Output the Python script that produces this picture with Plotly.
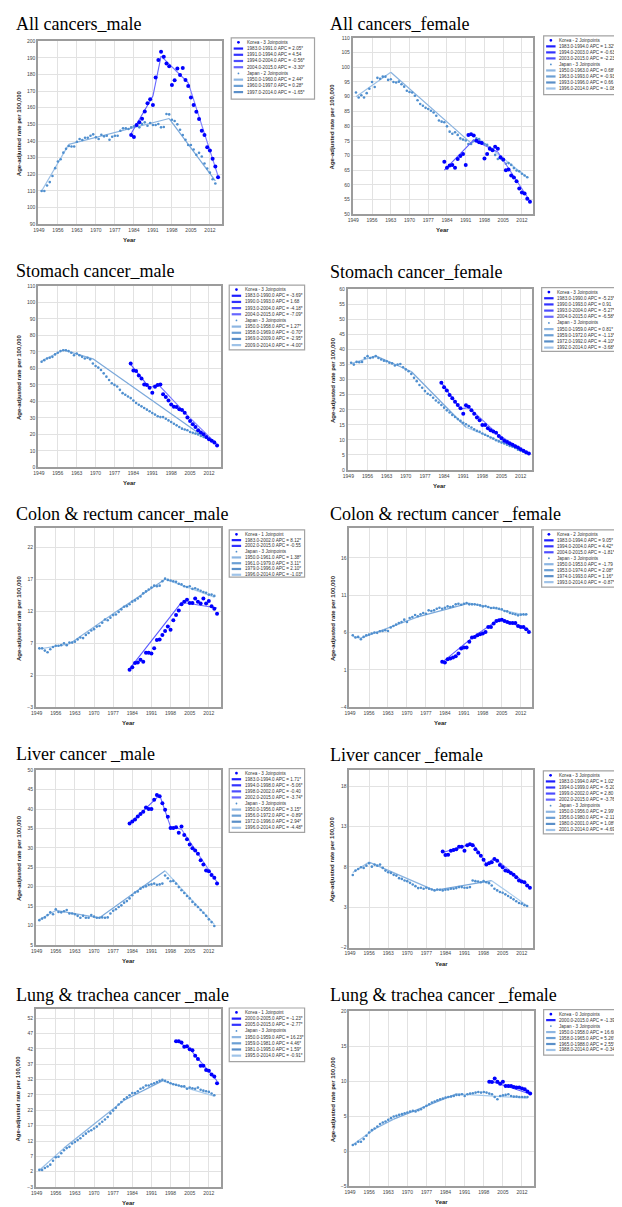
import plotly.graph_objects as go

# The page body adds an 8px margin, so the figure is drawn 8px smaller and shifted.
OFF = 8
W, H = 622 - OFF, 1207 - OFF
SANS = "Liberation Sans, Arial, sans-serif"
SERIF = "Liberation Serif, Times New Roman, serif"
FRAME = "#9c9c9c"
GRID = "#e2e2e2"
KR_MARK = "#0000ff"
JP_MARK = "#4f8fcf"
KR_COLORS = ["#1f1fff", "#3333ff", "#4d4dff", "#6666ff"]
KR_LINE_COLORS = ["#5a5aff", "#6666ff", "#7474ff", "#8080ff"]
JP_COLORS = ["#8db6e2", "#6b9fd4", "#5a8fc8", "#9fc3e8"]
JP_LINE_COLORS = ["#9cc0e6", "#88b2df", "#7aa8da", "#a8cbec"]

# ---------------- common data ----------------
JP_YEARS = list(range(1950, 2015))
KR_YEARS = list(range(1983, 2016))
KR_YEARS_LUNG = list(range(2000, 2016))
X_TICKS = [1949, 1956, 1963, 1970, 1977, 1984, 1991, 1998, 2005, 2012]
X_RANGE = [1948.7, 2016.3]
Y_TITLE = "Age-adjusted rate per 100,000"
X_TITLE = "Year"

# ---------------- All cancers, male ----------------
ALLM_TITLE = "All cancers_male"
ALLM_KR = [143.6, 142.4, 149.6, 151.2, 153.4, 157.8, 162.7, 165.1, 161.6, 178.1,
           188.6, 193.6, 190.6, 186.5, 184.9, 173.7, 176.5, 183.5, 179.7, 183.9,
           176.7, 173.1, 166.1, 161.6, 157.6, 153.2, 146.2, 143.6, 136.3, 134.3,
           129.3, 124.7, 118.3]
ALLM_JP = [110.0, 110.0, 113.3, 115.3, 119.0, 123.7, 127.7, 129.0, 133.0, 135.3,
           137.0, 136.7, 136.7, 139.6, 141.2, 140.6, 142.0, 142.0, 143.2, 144.0,
           142.2, 141.2, 143.8, 142.8, 143.2, 140.8, 142.6, 143.2, 143.2, 146.2,
           147.6, 147.6, 147.2, 148.2, 148.8, 149.2, 148.2, 150.2, 151.2, 149.2,
           150.8, 149.6, 149.6, 150.2, 148.2, 148.4, 156.2, 156.0, 152.8, 152.0,
           150.0, 146.8, 143.6, 140.8, 137.6, 137.6, 134.9, 131.7, 132.9, 130.7,
           126.5, 123.5, 121.0, 117.0, 114.5]
ALLM_KR_JOIN = [1983, 1991, 1994, 2004, 2015]
ALLM_KR_FIT = [144.5, 167.0, 191.0, 175.0, 119.0]
ALLM_JP_JOIN = [1950, 1960, 1997, 2014]
ALLM_JP_FIT = [110.0, 138.0, 153.5, 116.0]
ALLM_KR_LABELS = ["Korea - 3 Joinpoints", "1983.0-1991.0 APC = 2.05*", "1991.0-1994.0 APC = 4.54",
                  "1994.0-2004.0 APC = -0.56*", "2004.0-2015.0 APC = -3.30*"]
ALLM_JP_LABELS = ["Japan - 2 Joinpoints", "1950.0-1960.0 APC = 2.44*", "1960.0-1997.0 APC = 0.28*",
                  "1997.0-2014.0 APC = -1.65*"]

# ---------------- All cancers, female ----------------
ALLF_TITLE = "All cancers_female"
ALLF_KR = [67.9, 65.8, 66.6, 66.8, 65.8, 68.8, 69.8, 70.5, 66.8, 77.0,
           77.2, 76.8, 75.0, 74.5, 74.2, 69.0, 70.5, 72.3, 71.8, 73.0,
           72.3, 69.4, 68.6, 65.0, 65.2, 63.2, 62.5, 61.2, 58.8, 57.4,
           57.1, 55.3, 54.3]
ALLF_JP = [91.4, 89.7, 90.5, 89.7, 91.2, 92.7, 95.0, 93.3, 96.4, 96.1,
           96.8, 96.8, 95.7, 95.9, 95.0, 94.8, 95.1, 94.2, 93.4, 92.0,
           91.6, 91.4, 90.3, 88.8, 87.5, 86.9, 86.2, 85.8, 85.2, 84.6,
           83.5, 81.9, 81.5, 81.3, 79.9, 78.1, 77.4, 77.9, 77.0, 75.8,
           75.4, 75.1, 73.9, 73.9, 75.1, 75.8, 75.6, 74.5, 73.9, 73.6,
           72.8, 72.2, 70.2, 68.8, 69.0, 68.3, 67.2, 67.4, 66.8, 65.7,
           64.9, 64.6, 63.8, 63.2, 62.6]
ALLF_KR_JOIN = [1983, 1994, 2003, 2015]
ALLF_KR_FIT = [65.0, 75.3, 71.2, 54.5]
ALLF_JP_JOIN = [1950, 1963, 1993, 1996, 2014]
ALLF_JP_FIT = [90.0, 98.3, 74.2, 75.6, 62.5]
ALLF_KR_LABELS = ["Korea - 2 Joinpoints", "1983.0-1994.0 APC = 1.32*", "1994.0-2003.0 APC = -0.63",
                  "2003.0-2015.0 APC = -2.23*"]
ALLF_JP_LABELS = ["Japan - 3 Joinpoints", "1950.0-1963.0 APC = 0.68*", "1963.0-1993.0 APC = -0.93*",
                  "1993.0-1996.0 APC = 0.66", "1996.0-2014.0 APC = -1.08*"]

# ---------------- Stomach, male ----------------
STOM_TITLE = "Stomach cancer_male"
STOM_KR = [63.0, 58.8, 58.4, 55.7, 53.9, 50.3, 49.9, 48.3, 45.3, 48.9,
           49.9, 50.3, 44.3, 42.7, 40.6, 38.2, 36.8, 36.6, 35.2, 34.8,
           33.2, 30.2, 28.2, 26.2, 24.5, 22.5, 21.1, 20.1, 18.5, 17.1,
           16.1, 15.1, 13.3]
STOM_JP = [64.0, 65.0, 66.0, 66.5, 67.0, 68.5, 69.5, 70.5, 71.0, 71.0,
           70.5, 69.5, 68.0, 69.0, 68.0, 67.0, 66.0, 66.5, 65.5, 63.0,
           61.5, 60.5, 59.0, 57.0, 55.0, 53.0, 51.0, 50.0, 49.0, 47.0,
           45.0, 44.0, 43.0, 42.0, 40.5, 39.0, 38.0, 37.0, 36.0, 35.0,
           34.0, 33.0, 32.0, 31.0, 30.5, 30.5, 29.5, 28.5, 27.5, 26.5,
           25.5, 24.5, 23.5, 23.0, 22.5, 21.5, 21.0, 20.5, 20.0, 19.0,
           18.5, 18.0, 17.5, 16.5, 15.5]
STOM_KR_JOIN = [1983, 1990, 1993, 2004, 2015]
STOM_KR_FIT = [62.5, 48.2, 50.6, 31.5, 14.0]
STOM_JP_JOIN = [1950, 1958, 1969, 2009, 2014]
STOM_JP_FIT = [64.5, 71.2, 65.8, 19.8, 16.1]
STOM_KR_LABELS = ["Korea - 3 Joinpoints", "1983.0-1990.0 APC = -3.69*", "1990.0-1993.0 APC = 1.68",
                  "1993.0-2004.0 APC = -4.18*", "2004.0-2015.0 APC = -7.09*"]
STOM_JP_LABELS = ["Japan - 3 Joinpoints", "1950.0-1958.0 APC = 1.27*", "1958.0-1969.0 APC = -0.70*",
                  "1969.0-2009.0 APC = -2.95*", "2009.0-2014.0 APC = -4.00*"]

# ---------------- Stomach, female ----------------
STOF_TITLE = "Stomach cancer_female"
STOF_KR = [29.0, 27.5, 26.4, 24.9, 23.8, 22.7, 21.6, 20.5, 18.7, 21.5,
           21.0, 19.8, 18.7, 17.4, 16.5, 14.9, 14.9, 13.9, 13.2, 12.8,
           12.4, 11.3, 10.5, 9.7, 9.3, 8.8, 8.4, 7.9, 7.5, 6.9,
           6.4, 5.9, 5.5]
STOF_JP = [35.6, 35.0, 35.9, 35.8, 35.9, 37.2, 37.8, 37.2, 37.4, 37.8,
           37.2, 36.7, 36.3, 36.1, 35.6, 35.4, 34.7, 35.0, 35.2, 34.1,
           33.4, 32.8, 31.9, 30.6, 29.5, 28.2, 27.3, 26.2, 25.3, 24.9,
           24.0, 23.1, 22.4, 21.6, 20.7, 19.8, 19.1, 18.3, 17.6, 16.9,
           16.3, 15.7, 15.2, 14.6, 14.1, 13.5, 13.0, 12.7, 12.1, 11.7,
           11.3, 10.8, 10.4, 9.9, 9.5, 9.1, 8.8, 8.4, 8.0, 7.7,
           7.3, 6.7, 6.4, 6.1, 5.6]
STOF_KR_JOIN = [1983, 1990, 1993, 2004, 2015]
STOF_KR_FIT = [29.0, 20.2, 20.8, 11.6, 5.5]
STOF_JP_JOIN = [1950, 1959, 1972, 1992, 2014]
STOF_JP_FIT = [35.3, 37.9, 32.7, 14.2, 6.1]
STOF_KR_LABELS = ["Korea - 3 Joinpoints", "1983.0-1990.0 APC = -5.23*", "1990.0-1993.0 APC = 0.91",
                  "1993.0-2004.0 APC = -5.27*", "2004.0-2015.0 APC = -6.58*"]
STOF_JP_LABELS = ["Japan - 3 Joinpoints", "1950.0-1959.0 APC = 0.81*", "1959.0-1972.0 APC = -1.13*",
                  "1972.0-1992.0 APC = -4.10*", "1992.0-2014.0 APC = -3.68*"]

# ---------------- Colon & rectum, male ----------------
CRCM_TITLE = "Colon & rectum cancer_male"
CRCM_KR = [2.85, 3.25, 3.9, 4.0, 4.4, 4.1, 5.5, 5.5, 5.4, 6.2,
           7.5, 7.6, 8.3, 8.9, 9.6, 9.1, 10.6, 11.4, 12.1, 13.1,
           13.5, 13.8, 13.3, 13.3, 14.0, 13.5, 13.2, 14.0, 13.2, 13.6,
           12.8, 12.4, 11.6]
CRCM_JP = [6.2, 6.2, 5.85, 5.6, 6.05, 6.4, 6.6, 6.6, 6.7, 7.0,
           6.7, 7.1, 7.1, 7.25, 7.6, 7.9, 7.8, 8.3, 8.6, 9.0,
           9.2, 9.6, 9.7, 10.2, 10.7, 10.6, 11.0, 11.4, 11.5, 11.9,
           12.3, 12.7, 12.8, 13.1, 13.5, 13.7, 14.0, 14.3, 14.8, 15.1,
           15.4, 15.7, 16.0, 15.9, 16.0, 16.7, 17.1, 16.9, 16.8, 16.7,
           16.6, 16.3, 16.2, 15.9, 15.8, 15.9, 15.5, 15.6, 15.4, 15.2,
           15.0, 14.9, 14.6, 14.6, 14.4]
CRCM_KR_JOIN = [1983, 2002, 2015]
CRCM_KR_FIT = [3.0, 13.4, 12.5]
CRCM_JP_JOIN = [1950, 1961, 1979, 1996, 2014]
CRCM_JP_FIT = [6.1, 6.9, 12.2, 17.0, 14.2]
CRCM_KR_LABELS = ["Korea - 1 Joinpoint", "1983.0-2002.0 APC = 8.12*", "2002.0-2015.0 APC = -0.55"]
CRCM_JP_LABELS = ["Japan - 3 Joinpoints", "1950.0-1961.0 APC = 1.38*", "1961.0-1979.0 APC = 3.11*",
                  "1979.0-1996.0 APC = 2.10*", "1996.0-2014.0 APC = -1.03*"]

# ---------------- Colon & rectum, female ----------------
CRCF_TITLE = "Colon & rectum cancer _female"
CRCF_KR = [2.09, 2.0, 2.44, 2.53, 2.67, 2.84, 3.2, 3.87, 4.0, 4.0,
           4.76, 5.33, 5.42, 5.64, 5.78, 5.87, 6.09, 6.76, 6.76, 7.2,
           7.56, 7.64, 7.73, 7.56, 7.42, 7.29, 7.29, 7.29, 6.89, 6.76,
           6.76, 6.44, 6.09]
CRCF_JP = [5.64, 5.33, 5.42, 5.1, 5.42, 5.64, 5.73, 5.87, 6.0, 5.96,
           6.18, 6.22, 6.31, 6.22, 6.67, 6.89, 7.07, 7.29, 7.42, 7.73,
           7.42, 7.96, 8.09, 8.36, 8.18, 8.44, 8.62, 8.53, 8.98, 8.89,
           8.98, 9.2, 9.33, 9.2, 9.33, 9.51, 9.42, 9.51, 9.78, 9.87,
           9.73, 9.87, 9.96, 9.78, 9.78, 9.78, 9.73, 9.64, 9.51, 9.56,
           9.42, 9.29, 9.33, 9.29, 9.2, 9.11, 8.89, 8.84, 8.62, 8.53,
           8.44, 8.31, 8.4, 8.44, 8.44]
CRCF_KR_JOIN = [1983, 1994, 2004, 2015]
CRCF_KR_FIT = [2.0, 5.3, 7.8, 6.4]
CRCF_JP_JOIN = [1950, 1953, 1974, 1993, 2014]
CRCF_JP_FIT = [5.5, 5.25, 8.1, 9.95, 8.3]
CRCF_KR_LABELS = ["Korea - 2 Joinpoints", "1983.0-1994.0 APC = 9.05*", "1994.0-2004.0 APC = 4.42*",
                  "2004.0-2015.0 APC = -1.81*"]
CRCF_JP_LABELS = ["Japan - 3 Joinpoints", "1950.0-1953.0 APC = -1.79", "1953.0-1974.0 APC = 2.08*",
                  "1974.0-1993.0 APC = 1.16*", "1993.0-2014.0 APC = -0.87*"]

# ---------------- Liver, male ----------------
LIVM_TITLE = "Liver cancer _male"
LIVM_KR = [36.3, 36.8, 37.3, 38.1, 38.7, 39.3, 40.4, 40.0, 40.0, 42.4,
           43.6, 43.3, 41.5, 39.8, 38.0, 35.1, 35.1, 35.3, 33.9, 35.5,
           33.3, 32.2, 30.9, 29.9, 29.3, 28.5, 26.8, 25.7, 24.2, 24.0,
           23.0, 22.3, 20.8]
LIVM_JP = [11.4, 11.8, 12.1, 12.7, 13.4, 12.9, 14.2, 13.5, 13.4, 13.7,
           14.0, 13.1, 13.1, 12.9, 12.5, 12.0, 12.5, 12.0, 12.0, 12.7,
           12.3, 12.0, 12.0, 12.1, 12.0, 12.1, 13.1, 13.8, 14.2, 14.8,
           15.2, 15.9, 16.3, 17.0, 17.8, 18.5, 18.8, 19.5, 19.9, 20.1,
           20.5, 20.6, 20.8, 20.5, 20.6, 20.8, 22.9, 22.2, 21.4, 21.5,
           20.8, 19.9, 19.1, 18.4, 17.6, 17.0, 16.1, 15.4, 14.8, 14.0,
           13.3, 12.5, 11.6, 10.9, 9.9]
LIVM_KR_JOIN = [1983, 1994, 1998, 2002, 2015]
LIVM_KR_FIT = [36.2, 43.6, 35.4, 34.8, 21.2]
LIVM_JP_JOIN = [1950, 1956, 1972, 1996, 2014]
LIVM_JP_FIT = [11.5, 13.9, 12.0, 24.1, 10.3]
LIVM_KR_LABELS = ["Korea - 3 Joinpoints", "1983.0-1994.0 APC = 1.71*", "1994.0-1998.0 APC = -5.06*",
                  "1998.0-2002.0 APC = -0.40", "2002.0-2015.0 APC = -3.74*"]
LIVM_JP_LABELS = ["Japan - 3 Joinpoints", "1950.0-1956.0 APC = 3.15*", "1956.0-1972.0 APC = -0.89*",
                  "1972.0-1996.0 APC = 2.94*", "1996.0-2014.0 APC = -4.48*"]

# ---------------- Liver, female ----------------
LIVF_TITLE = "Liver cancer _female"
LIVF_KR = [9.93, 9.48, 9.52, 10.0, 10.1, 10.2, 10.5, 10.5, 10.0, 10.7,
           10.8, 10.7, 10.2, 9.8, 9.4, 8.9, 8.29, 8.45, 8.57, 8.98,
           8.78, 8.25, 7.96, 7.55, 7.47, 7.26, 7.02, 6.73, 6.32, 6.2,
           6.11, 5.7, 5.42]
LIVF_JP = [7.0, 7.55, 7.75, 7.96, 7.88, 8.16, 8.45, 8.04, 8.29, 8.16,
           8.29, 7.88, 7.55, 7.34, 7.26, 7.02, 6.93, 6.61, 6.52, 6.32,
           6.24, 6.03, 5.83, 5.62, 5.38, 5.42, 5.3, 5.42, 5.3, 5.21,
           5.09, 5.21, 5.17, 5.09, 5.17, 5.21, 5.3, 5.3, 5.38, 5.5,
           5.5, 5.42, 5.42, 5.5, 6.32, 6.24, 6.2, 6.11, 6.24, 6.11,
           5.99, 5.7, 5.3, 5.09, 4.89, 4.8, 4.6, 4.39, 4.19, 3.98,
           3.74, 3.53, 3.45, 3.25, 3.16]
LIVF_KR_JOIN = [1983, 1994, 1999, 2002, 2015]
LIVF_KR_FIT = [9.8, 10.9, 8.4, 9.1, 5.5]
LIVF_JP_JOIN = [1950, 1956, 1980, 2001, 2014]
LIVF_JP_FIT = [7.3, 8.6, 5.1, 6.3, 3.2]
LIVF_KR_LABELS = ["Korea - 3 Joinpoints", "1983.0-1994.0 APC = 1.02*", "1994.0-1999.0 APC = -5.20*",
                  "1999.0-2002.0 APC = 2.80", "2002.0-2015.0 APC = -3.76*"]
LIVF_JP_LABELS = ["Japan - 3 Joinpoints", "1950.0-1956.0 APC = 2.99*", "1956.0-1980.0 APC = -2.11*",
                  "1980.0-2001.0 APC = 1.08*", "2001.0-2014.0 APC = -4.69*"]

# ---------------- Lung & trachea, male ----------------
LUNM_TITLE = "Lung & trachea cancer _male"
LUNM_KR = [44.5, 44.5, 44.1, 42.7, 42.9, 41.9, 41.6, 39.8, 38.7, 36.5,
           36.5, 35.1, 34.9, 33.7, 33.0, 30.8]
LUNM_JP = [2.6, 2.6, 3.2, 3.7, 4.3, 5.6, 6.7, 6.9, 8.0, 9.0,
           9.7, 10.1, 11.2, 11.7, 12.3, 12.9, 13.7, 14.4, 15.1, 15.5,
           16.1, 16.7, 17.6, 18.3, 19.0, 19.8, 21.0, 21.9, 22.8, 23.9,
           24.7, 25.6, 26.2, 26.9, 27.6, 27.6, 28.2, 29.0, 29.4, 30.1,
           30.1, 30.5, 30.8, 31.2, 31.6, 31.9, 31.6, 31.2, 30.8, 30.5,
           30.3, 30.1, 29.8, 29.8, 29.0, 29.4, 29.2, 29.0, 29.4, 28.7,
           28.4, 28.2, 28.0, 27.5, 26.9]
LUNM_KR_JOIN = [2000, 2005, 2015]
LUNM_KR_FIT = [44.7, 42.0, 31.6]
LUNM_JP_JOIN = [1950, 1959, 1981, 1995, 2014]
LUNM_JP_FIT = [2.5, 9.7, 25.3, 31.6, 26.6]
LUNM_KR_LABELS = ["Korea - 1 Joinpoint", "2000.0-2005.0 APC = -1.23*", "2005.0-2015.0 APC = -2.77*"]
LUNM_JP_LABELS = ["Japan - 3 Joinpoints", "1950.0-1959.0 APC = 16.23*", "1959.0-1981.0 APC = 4.46*",
                  "1981.0-1995.0 APC = 1.59*", "1995.0-2014.0 APC = -0.91*"]

# ---------------- Lung & trachea, female ----------------
LUNF_TITLE = "Lung & trachea cancer _female"
LUNF_KR = [9.95, 9.9, 10.4, 9.95, 9.67, 9.95, 9.34, 9.34, 9.34, 9.2,
           9.1, 9.1, 8.96, 8.86, 8.53, 8.25]
LUNF_JP = [0.9, 1.04, 1.37, 1.37, 1.75, 2.23, 2.7, 3.03, 3.27, 3.55,
           3.89, 4.12, 4.27, 4.5, 4.74, 4.98, 5.07, 5.21, 5.31, 5.45,
           5.55, 5.69, 5.78, 5.69, 5.88, 6.02, 6.26, 6.5, 6.73, 6.97,
           7.11, 7.3, 7.44, 7.54, 7.68, 7.77, 7.82, 7.91, 8.06, 8.06,
           8.15, 7.91, 8.15, 8.25, 8.29, 8.39, 8.48, 8.39, 8.48, 8.39,
           8.25, 8.15, 7.77, 7.44, 7.91, 8.0, 8.06, 8.15, 7.91, 7.82,
           7.82, 7.77, 7.77, 7.77, 7.77]
LUNF_KR_JOIN = [2000, 2015]
LUNF_KR_FIT = [10.1, 8.2]
LUNF_JP_JOIN = [1950, 1958, 1965, 1988, 2014]
LUNF_JP_FIT = [0.95, 3.2, 4.6, 8.2, 7.6]
LUNF_KR_LABELS = ["Korea - 0 Joinpoints", "2000.0-2015.0 APC = -1.39*"]
LUNF_JP_LABELS = ["Japan - 3 Joinpoints", "1950.0-1958.0 APC = 16.60*", "1958.0-1965.0 APC = 5.26*",
                  "1965.0-1988.0 APC = 2.55*", "1988.0-2014.0 APC = -0.34*"]

# ---------------- layout table (pixel geometry in the reference image) ----------------
# plot: (left, top, right, bottom); leg: (left, top, right, bottom, row spacing)
PANELS = [
    dict(title=ALLM_TITLE, kr=ALLM_KR, kr_x=KR_YEARS, jp=ALLM_JP, krj=ALLM_KR_JOIN, krf=ALLM_KR_FIT,
         jpj=ALLM_JP_JOIN, jpf=ALLM_JP_FIT, krl=ALLM_KR_LABELS, jpl=ALLM_JP_LABELS,
         yr=[90, 200], t0=90, dt=10, plot=(33.3, 38.3, 218.3, 222.3), base=27,
         leg=(228, 35, 312, 96.5, 6.25)),
    dict(title=ALLF_TITLE, kr=ALLF_KR, kr_x=KR_YEARS, jp=ALLF_JP, krj=ALLF_KR_JOIN, krf=ALLF_KR_FIT,
         jpj=ALLF_JP_JOIN, jpf=ALLF_JP_FIT, krl=ALLF_KR_LABELS, jpl=ALLF_JP_LABELS,
         yr=[50, 110], t0=50, dt=5, plot=(350.3, 35.0, 532.7, 212.3), base=27,
         leg=(543, 33, 621.5, 92, 6.05)),
    dict(title=STOM_TITLE, kr=STOM_KR, kr_x=KR_YEARS, jp=STOM_JP, krj=STOM_KR_JOIN, krf=STOM_KR_FIT,
         jpj=STOM_JP_JOIN, jpf=STOM_JP_FIT, krl=STOM_KR_LABELS, jpl=STOM_JP_LABELS,
         yr=[0, 110], t0=0, dt=10, plot=(33.3, 284.3, 217.3, 466.7), base=275,
         leg=(226, 283.5, 302, 348.5, 6.2)),
    dict(title=STOF_TITLE, kr=STOF_KR, kr_x=KR_YEARS, jp=STOF_JP, krj=STOF_KR_JOIN, krf=STOF_KR_FIT,
         jpj=STOF_JP_JOIN, jpf=STOF_JP_FIT, krl=STOF_KR_LABELS, jpl=STOF_JP_LABELS,
         yr=[0, 60], t0=0, dt=5, plot=(345.3, 287.7, 531.7, 469.3), base=276,
         leg=(541, 286, 621.5, 350, 6.2)),
    dict(title=CRCM_TITLE, kr=CRCM_KR, kr_x=KR_YEARS, jp=CRCM_JP, krj=CRCM_KR_JOIN, krf=CRCM_KR_FIT,
         jpj=CRCM_JP_JOIN, jpf=CRCM_JP_FIT, krl=CRCM_KR_LABELS, jpl=CRCM_JP_LABELS,
         yr=[-3, 25], t0=-3, dt=5, plot=(31.0, 527.7, 217.3, 707.7), base=520,
         leg=(226, 529.5, 302, 577, 5.8)),
    dict(title=CRCF_TITLE, kr=CRCF_KR, kr_x=KR_YEARS, jp=CRCF_JP, krj=CRCF_KR_JOIN, krf=CRCF_KR_FIT,
         jpj=CRCF_JP_JOIN, jpf=CRCF_JP_FIT, krl=CRCF_KR_LABELS, jpl=CRCF_JP_LABELS,
         yr=[-4, 20], t0=-4, dt=5, plot=(347.0, 527.7, 531.7, 707.7), base=520,
         leg=(541, 529.5, 621.5, 587, 6.0)),
    dict(title=LIVM_TITLE, kr=LIVM_KR, kr_x=KR_YEARS, jp=LIVM_JP, krj=LIVM_KR_JOIN, krf=LIVM_KR_FIT,
         jpj=LIVM_JP_JOIN, jpf=LIVM_JP_FIT, krl=LIVM_KR_LABELS, jpl=LIVM_JP_LABELS,
         yr=[5, 50], t0=5, dt=5, plot=(31.0, 771.0, 217.3, 946.7), base=761,
         leg=(226, 769.5, 302, 833.5, 6.1)),
    dict(title=LIVF_TITLE, kr=LIVF_KR, kr_x=KR_YEARS, jp=LIVF_JP, krj=LIVF_KR_JOIN, krf=LIVF_KR_FIT,
         jpj=LIVF_JP_JOIN, jpf=LIVF_JP_FIT, krl=LIVF_KR_LABELS, jpl=LIVF_JP_LABELS,
         yr=[-2, 20], t0=-2, dt=5, plot=(347.0, 771.0, 532.7, 949.3), base=762,
         leg=(542.7, 771.7, 621.5, 835, 6.1)),
    dict(title=LUNM_TITLE, kr=LUNM_KR, kr_x=KR_YEARS_LUNG, jp=LUNM_JP, krj=LUNM_KR_JOIN, krf=LUNM_KR_FIT,
         jpj=LUNM_JP_JOIN, jpf=LUNM_JP_FIT, krl=LUNM_KR_LABELS, jpl=LUNM_JP_LABELS,
         yr=[-3, 55], t0=-3, dt=5, plot=(31.0, 1011.0, 217.3, 1190.0), base=1003,
         leg=(226, 1010, 302, 1064, 6.2)),
    dict(title=LUNF_TITLE, kr=LUNF_KR, kr_x=KR_YEARS_LUNG, jp=LUNF_JP, krj=LUNF_KR_JOIN, krf=LUNF_KR_FIT,
         jpj=LUNF_JP_JOIN, jpf=LUNF_JP_FIT, krl=LUNF_KR_LABELS, jpl=LUNF_JP_LABELS,
         yr=[-5, 20], t0=-5, dt=5, plot=(347.0, 1013.3, 533.0, 1189.3), base=1003,
         leg=(543, 1011.7, 621.5, 1057.3, 6.0)),
]


def px(x):
    return (x - OFF) / W


def py(y):
    return 1 - (y - OFF) / H


fig = go.Figure()
layout = dict(width=W, height=H, margin=dict(l=0, r=0, t=0, b=0),
              paper_bgcolor="white", plot_bgcolor="white", showlegend=False)
annotations = []
shapes = []

for i, p in enumerate(PANELS, start=1):
    xa = "xaxis" if i == 1 else f"xaxis{i}"
    ya = "yaxis" if i == 1 else f"yaxis{i}"
    xr = "x" if i == 1 else f"x{i}"
    yr = "y" if i == 1 else f"y{i}"
    left, top, right, bottom = p["plot"]
    right_col = left > 300

    layout[xa] = dict(domain=[px(left), px(right)], range=X_RANGE, tickvals=X_TICKS, anchor=yr,
                      showline=True, mirror=True, linecolor=FRAME, linewidth=1.5,
                      showgrid=True, gridcolor=GRID, gridwidth=1, zeroline=False, ticks="",
                      tickfont=dict(family=SANS, size=5, color="#444"), fixedrange=True)
    layout[ya] = dict(domain=[py(bottom), py(top)], range=p["yr"], tick0=p["t0"], dtick=p["dt"],
                      anchor=xr, showline=True, mirror=True, linecolor=FRAME, linewidth=1.5,
                      showgrid=True, gridcolor=GRID, gridwidth=1, zeroline=False, ticks="",
                      tickfont=dict(family=SANS, size=5, color="#444"), fixedrange=True)

    # Japan joinpoint segments + observed
    for k in range(len(p["jpj"]) - 1):
        fig.add_trace(go.Scatter(x=p["jpj"][k:k + 2], y=p["jpf"][k:k + 2], mode="lines",
                                 line=dict(color=JP_LINE_COLORS[k % 4], width=1.2),
                                 xaxis=xr, yaxis=yr, hoverinfo="skip"))
    fig.add_trace(go.Scatter(x=JP_YEARS, y=p["jp"], mode="markers",
                             marker=dict(color=JP_MARK, size=2.6), xaxis=xr, yaxis=yr))
    # Korea joinpoint segments + observed
    for k in range(len(p["krj"]) - 1):
        fig.add_trace(go.Scatter(x=p["krj"][k:k + 2], y=p["krf"][k:k + 2], mode="lines",
                                 line=dict(color=KR_LINE_COLORS[k % 4], width=1.1),
                                 xaxis=xr, yaxis=yr, hoverinfo="skip"))
    fig.add_trace(go.Scatter(x=p["kr_x"], y=p["kr"], mode="markers",
                             marker=dict(color=KR_MARK, size=4), xaxis=xr, yaxis=yr))

    # title
    annotations.append(dict(text=p["title"], xref="paper", yref="paper",
                            x=px(326 if right_col else 9), y=py(p["base"] - 6),
                            xanchor="left", yanchor="middle", showarrow=False,
                            font=dict(family=SERIF, size=18, color="black")))
    # axis titles
    annotations.append(dict(text="<b>" + Y_TITLE + "</b>", xref="paper", yref="paper",
                            x=px(330 if right_col else 13.5), y=py((top + bottom) / 2),
                            textangle=-90, xanchor="center", yanchor="middle", showarrow=False,
                            font=dict(family=SANS, size=6, color="#222")))
    annotations.append(dict(text="<b>" + X_TITLE + "</b>", xref="paper", yref="paper",
                            x=px((left + right) / 2), y=py(bottom + 16),
                            xanchor="center", yanchor="middle", showarrow=False,
                            font=dict(family=SANS, size=6, color="#222")))

    # legend box
    lx0, ly0, lx1, ly1, sp = p["leg"]
    shapes.append(dict(type="rect", xref="paper", yref="paper",
                       x0=px(lx0), x1=px(lx1), y0=py(ly1), y1=py(ly0),
                       line=dict(color="#a3a3a3", width=1.2), fillcolor="white", layer="above"))
    items = [("kr_hdr", p["krl"][0], KR_MARK)]
    for k, lab in enumerate(p["krl"][1:]):
        items.append(("line", lab, KR_COLORS[k % 4]))
    items.append(("jp_hdr", p["jpl"][0], JP_MARK))
    for k, lab in enumerate(p["jpl"][1:]):
        items.append(("line", lab, JP_COLORS[k % 4]))
    for j, (kind, lab, col) in enumerate(items):
        yy = ly0 + 4.5 + j * sp
        annotations.append(dict(text=lab, xref="paper", yref="paper",
                                x=px(lx0 + 13.5), y=py(yy), xanchor="left", yanchor="middle",
                                showarrow=False, font=dict(family=SANS, size=4.6, color="#333")))
        if kind == "line":
            shapes.append(dict(type="line", xref="paper", yref="paper",
                               x0=px(lx0 + 2.5), x1=px(lx0 + 12), y0=py(yy), y1=py(yy),
                               line=dict(color=col, width=2.2), layer="above"))
        else:
            r = 1.4 if kind == "kr_hdr" else 0.9
            cx = lx0 + 7.3
            shapes.append(dict(type="circle", xref="paper", yref="paper",
                               x0=px(cx - r), x1=px(cx + r), y0=py(yy + r), y1=py(yy - r),
                               line=dict(width=0), fillcolor=col, layer="above"))

layout["annotations"] = annotations
layout["shapes"] = shapes
fig.update_layout(**layout)
fig.write_html("out.html")
